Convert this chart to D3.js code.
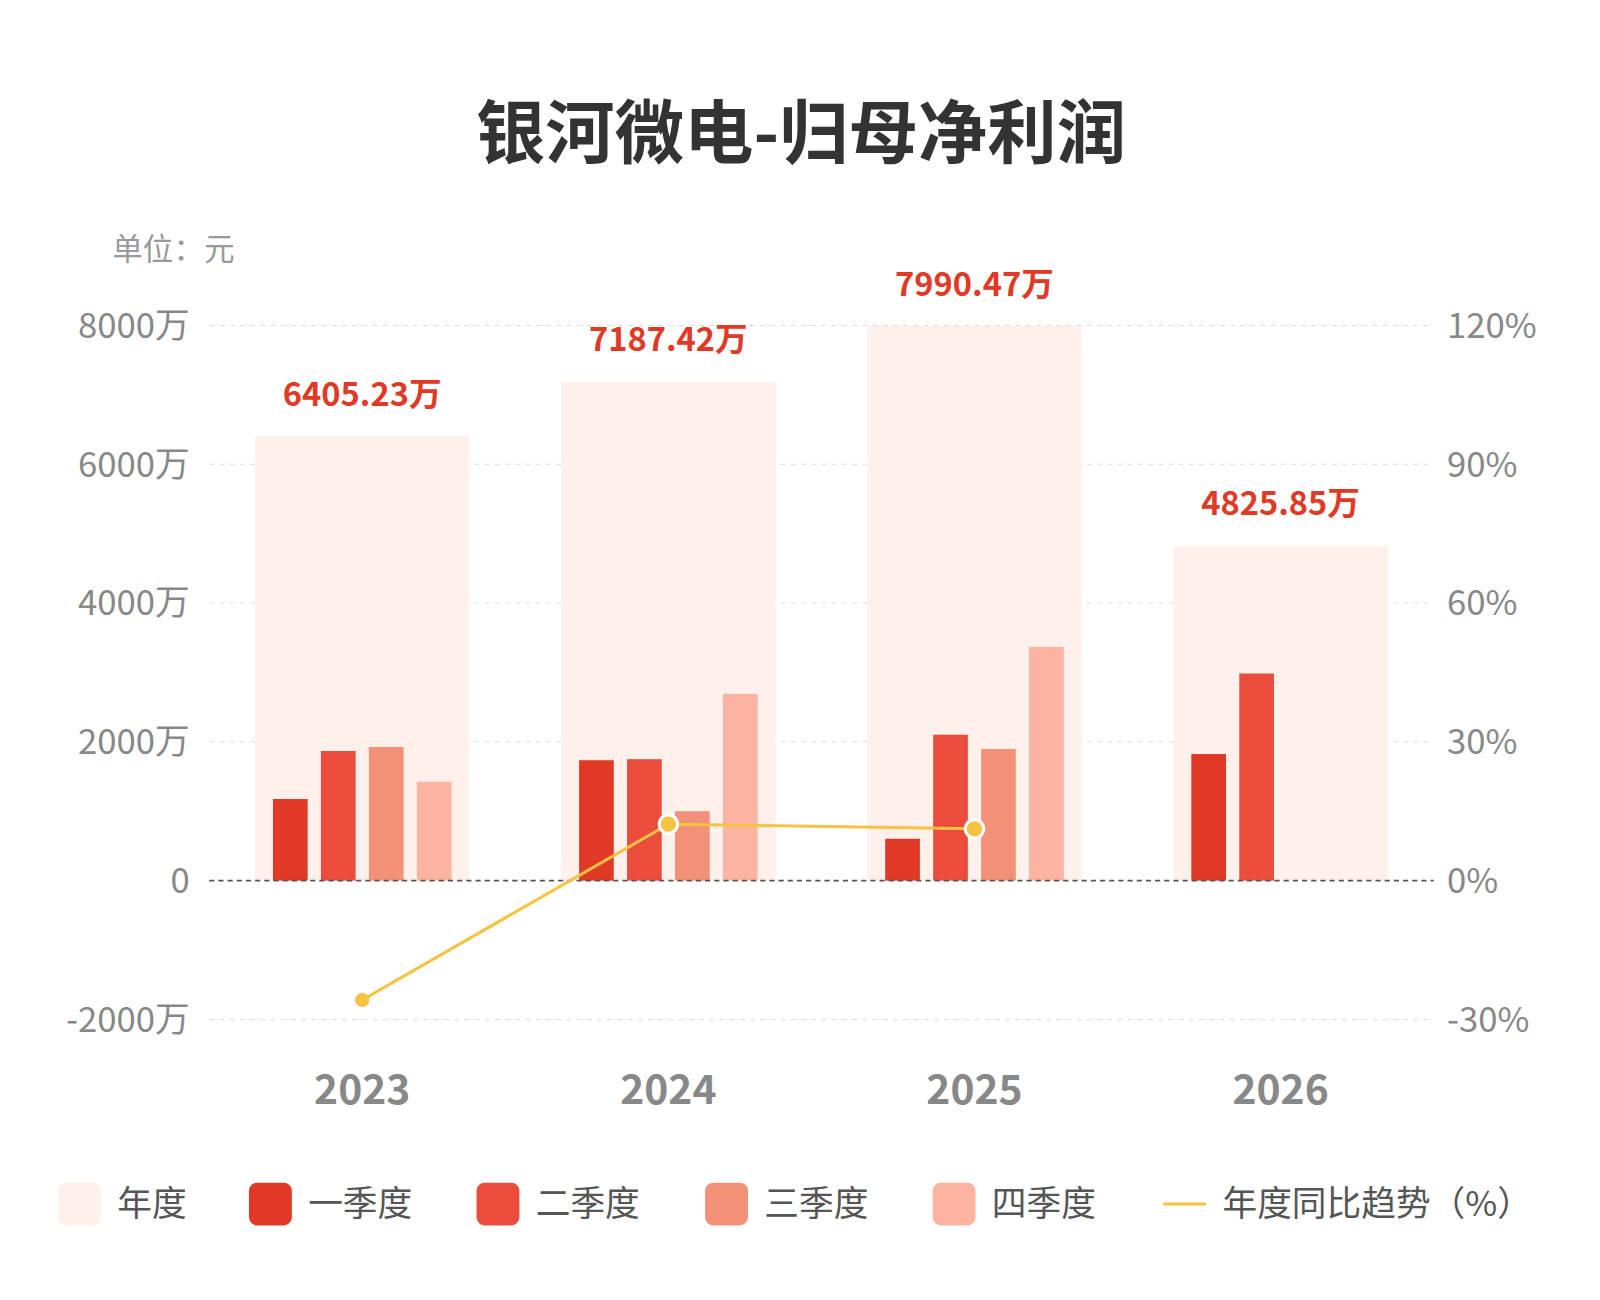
<!DOCTYPE html>
<html><head><meta charset="utf-8">
<script src="https://cdn.jsdelivr.net/npm/d3@7"></script>
<style>body{margin:0;background:#fff}</style>
</head><body>
<script>
const years = ['2023', '2024', '2025', '2026'];
const q1 = [1176, 1735, 603, 1824];
const q2 = [1868, 1750, 2103, 2985];
const q3 = [1926, 1000, 1897, null];
const q4 = [1426, 2691, 3368, null];
const annual = [6405.23, 7187.42, 7990.47, 4825.85];
const yoy = [-25.8, 12.2, 11.2, null];
const leftTicks = [-2000, 0, 2000, 4000, 6000, 8000];
const rightTicks = [-30, 0, 30, 60, 90, 120];

const W = 1600, H = 1300;
const font = "'Noto Sans CJK SC', 'Noto Sans', sans-serif";
const qColors = ['#e03a26', '#ec4c3c', '#f39078', '#fbb4a2'];
const bgColor = '#fff0eb', lineColor = '#f5c242';

const svg0 = d3.select('body').append('svg').attr('width', W).attr('height', H)
  .style('font-family', font);
// layout measured on a 1568-wide view; scale up to 1600
const svg = svg0.append('g').attr('transform', `scale(${1600 / 1568})`);

const x = d3.scaleBand().domain(years).range([205, 1405]);
const y = d3.scaleLinear().domain([-2000, 8000]).range([999, 319]);
const yr = d3.scaleLinear().domain([-30, 120]).range([999, 319]);

svg.append('text').attr('x', 785).attr('y', 155).attr('text-anchor', 'middle')
  .attr('font-size', 68).attr('font-weight', 'bold').attr('fill', '#333')
  .text('银河微电-归母净利润');
svg.append('text').attr('x', 110).attr('y', 255).attr('font-size', 30).attr('fill', '#999')
  .text('单位：元');

// grid
svg.append('g').selectAll('line').data(leftTicks.filter(d => d !== 0)).join('line')
  .attr('x1', 205).attr('x2', 1405).attr('y1', d => y(d)).attr('y2', d => y(d))
  .attr('stroke', '#ddd').attr('stroke-dasharray', '5,5');

svg.append('g').selectAll('text').data(leftTicks).join('text')
  .attr('x', 186).attr('y', d => y(d) + 12).attr('text-anchor', 'end')
  .attr('font-size', 34).attr('fill', '#888').text(d => d === 0 ? '0' : d + '万');
svg.append('g').selectAll('text').data(rightTicks).join('text')
  .attr('x', 1418).attr('y', d => yr(d) + 12)
  .attr('font-size', 34).attr('fill', '#888').text(d => d + '%');

// annual background
const bw = 210;
svg.append('g').selectAll('rect').data(years).join('rect')
  .attr('x', d => x(d) + x.bandwidth() / 2 - bw / 2).attr('width', bw)
  .attr('y', (d, i) => y(annual[i])).attr('height', (d, i) => y(0) - y(annual[i]))
  .attr('fill', bgColor);

// quarter bars
const qs = [q1, q2, q3, q4];
const barW = 34, step = 47;
qs.forEach((arr, qi) => {
  svg.append('g').selectAll('rect').data(years.filter((d, i) => arr[i] != null)).join('rect')
    .attr('x', d => x(d) + x.bandwidth() / 2 + (qi - 1.5) * step - barW / 2)
    .attr('width', barW)
    .attr('y', d => y(arr[years.indexOf(d)]))
    .attr('height', d => y(0) - y(arr[years.indexOf(d)]))
    .attr('fill', qColors[qi]);
});

// zero line
svg.append('line').attr('x1', 205).attr('x2', 1405).attr('y1', y(0)).attr('y2', y(0))
  .attr('stroke', '#555').attr('stroke-dasharray', '5,4').attr('stroke-width', 1.5);

// annual labels
svg.append('g').selectAll('text').data(years).join('text')
  .attr('x', d => x(d) + x.bandwidth() / 2).attr('y', (d, i) => y(annual[i]) - 30)
  .attr('text-anchor', 'middle').attr('font-size', 32).attr('font-weight', 'bold')
  .attr('fill', '#e03a26').text((d, i) => annual[i].toFixed(2) + '万');

// yoy line
const pts = years.map((d, i) => ({ d, v: yoy[i] })).filter(p => p.v != null);
svg.append('path').datum(pts)
  .attr('d', d3.line().x(p => x(p.d) + x.bandwidth() / 2).y(p => yr(p.v)))
  .attr('fill', 'none').attr('stroke', lineColor).attr('stroke-width', 3);
svg.append('g').selectAll('circle').data(pts).join('circle')
  .attr('cx', p => x(p.d) + x.bandwidth() / 2).attr('cy', p => yr(p.v))
  .attr('r', (p, i) => i === 0 ? 7 : 9).attr('fill', lineColor)
  .attr('stroke', '#fff').attr('stroke-width', (p, i) => i === 0 ? 0 : 3);

// x labels
svg.append('g').selectAll('text').data(years).join('text')
  .attr('x', d => x(d) + x.bandwidth() / 2).attr('y', 1082).attr('text-anchor', 'middle')
  .attr('font-size', 40).attr('font-weight', 'bold').attr('fill', '#888').text(d => d);

// legend
const legend = [
  { name: '年度', c: bgColor, x: 57 },
  { name: '一季度', c: qColors[0], x: 244 },
  { name: '二季度', c: qColors[1], x: 467 },
  { name: '三季度', c: qColors[2], x: 691 },
  { name: '四季度', c: qColors[3], x: 914 }
];
const lg = svg.append('g');
lg.selectAll('rect').data(legend).join('rect')
  .attr('x', d => d.x).attr('y', 1159).attr('width', 42).attr('height', 42).attr('rx', 8)
  .attr('fill', d => d.c);
lg.selectAll('text').data(legend).join('text')
  .attr('x', d => d.x + 58).attr('y', 1192).attr('font-size', 34).attr('fill', '#555')
  .text(d => d.name);
lg.append('line').attr('x1', 1140).attr('x2', 1182).attr('y1', 1180).attr('y2', 1180)
  .attr('stroke', lineColor).attr('stroke-width', 3);
lg.append('text').attr('x', 1198).attr('y', 1192).attr('font-size', 34).attr('fill', '#555')
  .text('年度同比趋势（%）');
</script>
</body></html>
